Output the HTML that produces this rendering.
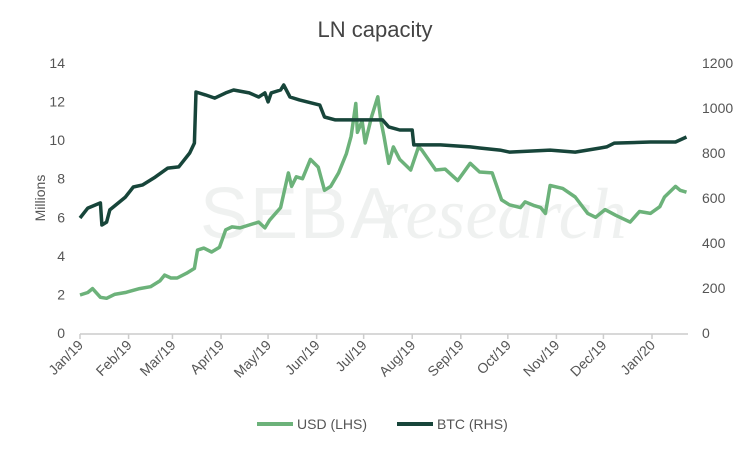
<!DOCTYPE html>
<html><head><meta charset="utf-8"><style>
body{margin:0;background:#fff;}
svg{display:block;font-family:"Liberation Sans",sans-serif;}
</style></head><body>
<svg id="chart" width="750" height="450">
<text x="375" y="37" text-anchor="middle" font-size="22" fill="#444">LN capacity</text>
<g opacity="0.5">
<text x="200" y="238" font-size="72" fill="#e0e4e2" letter-spacing="2">SEBA</text>
<text x="380" y="238" font-size="72" font-family="Liberation Serif" font-style="italic" fill="#e0e4e2">research</text>
</g>
<g id="axes"></g>
<g id="series"></g>
<text transform="translate(45,198) rotate(-90)" text-anchor="middle" font-size="14" fill="#555">Millions</text>
<g>
<line x1="257" y1="424" x2="293" y2="424" stroke="#6cb27a" stroke-width="4"/>
<text x="297" y="429" font-size="14" fill="#555">USD (LHS)</text>
<line x1="397" y1="424" x2="433" y2="424" stroke="#17453a" stroke-width="4"/>
<text x="437" y="429" font-size="14" fill="#555">BTC (RHS)</text>
</g>
</svg>
<script>
const monthLabels=["Jan/19","Feb/19","Mar/19","Apr/19","May/19","Jun/19","Jul/19","Aug/19","Sep/19","Oct/19","Nov/19","Dec/19","Jan/20"];
const monthDays=[0,31,59,90,120,151,181,212,243,273,304,334,365];
const leftTicks=[0,2,4,6,8,10,12,14];
const rightTicks=[0,200,400,600,800,1000,1200];
const usdDays=[0,5,8,13,17,22,29,38,45,51,54,58,62,68,73,75,79,84,89,93,97,102,108,114,118,121,128,133,135,138,142,147,152,156,160,165,170,173,176,177,180,182,186,190,192,194,197,200,204,211,216,218,227,233,241,249,255,263,269,274,281,284,290,294,297,300,308,316,324,329,335,342,351,357,364,370,373,380,383,387];
const usdVals=[1.97,2.1,2.3,1.85,1.8,2.0,2.1,2.3,2.4,2.7,3.0,2.85,2.85,3.1,3.35,4.3,4.4,4.2,4.45,5.35,5.5,5.45,5.6,5.75,5.45,5.85,6.5,8.3,7.6,8.1,8.0,9.0,8.6,7.4,7.6,8.3,9.3,10.2,11.9,10.4,11.0,9.85,11.2,12.25,11.0,10.2,8.8,9.65,9.0,8.45,9.65,9.5,8.45,8.5,7.9,8.8,8.35,8.3,6.9,6.65,6.5,6.8,6.6,6.5,6.2,7.65,7.5,7.05,6.2,6.0,6.4,6.1,5.75,6.3,6.2,6.55,7.05,7.6,7.4,7.3];
const btcDays=[0,5,13,14,17,19,29,34,40,48,56,63,70,73,74,80,86,93,98,108,114,118,120,122,128,130,134,140,153,156,163,193,197,204,212,213,230,249,255,268,274,300,316,332,336,341,364,380,387];
const btcVals=[511,555,578,480,493,547,604,649,658,693,733,738,800,844,1071,1058,1044,1067,1080,1067,1049,1067,1027,1067,1080,1102,1049,1036,1013,960,947,947,916,902,902,836,836,827,822,813,804,813,804,822,827,844,849,849,871];

const X0=80,DPX=572/365,Y0=333;
const xs=d=>X0+d*DPX;
const yL=v=>Y0-v*(270/14);
const yR=v=>Y0-v*(270/1200);
const NS="http://www.w3.org/2000/svg";
const axes=document.getElementById('axes'),series=document.getElementById('series');
function mk(tag,attrs,parent){const e=document.createElementNS(NS,tag);for(const k in attrs)e.setAttribute(k,attrs[k]);parent.appendChild(e);return e;}
const ax=mk('line',{x1:X0,y1:Y0+1,x2:688,y2:Y0+1,stroke:'#ccc','stroke-width':1.5},axes);


monthDays.forEach((d,i)=>{
  const x=xs(d);
  const t=mk('line',{x1:x,y1:Y0+1,x2:x,y2:Y0+6,stroke:'#ccc','stroke-width':1.5},axes);
  
  
  const l=mk('text',{transform:`translate(${x+4},${Y0+13}) rotate(-45)`,'text-anchor':'end','font-size':14,fill:'#555'},axes);
  l.textContent=monthLabels[i];
  
  
});
leftTicks.forEach(v=>{
  const l=mk('text',{x:65,y:yL(v)+5,'text-anchor':'end','font-size':14,fill:'#555'},axes);
  l.textContent=v;
  
  
});
rightTicks.forEach(v=>{
  const l=mk('text',{x:702,y:yR(v)+5,'text-anchor':'start','font-size':14,fill:'#555'},axes);
  l.textContent=v;
  
  
});
const usdPts=usdDays.map((d,i)=>xs(d).toFixed(1)+','+yL(usdVals[i]).toFixed(1)).join(' ');
const usd=mk('polyline',{points:usdPts,fill:'none',stroke:'#6cb27a','stroke-width':3.5,'stroke-linejoin':'round'},series);


let btcPts=[];
btcDays.forEach((d,i)=>{btcPts.push(xs(d).toFixed(1)+','+yR(btcVals[i]).toFixed(1));});
const btc=mk('polyline',{points:btcPts.join(' '),fill:'none',stroke:'#17453a','stroke-width':3.5,'stroke-linejoin':'round'},series);


</script>
</body></html>
